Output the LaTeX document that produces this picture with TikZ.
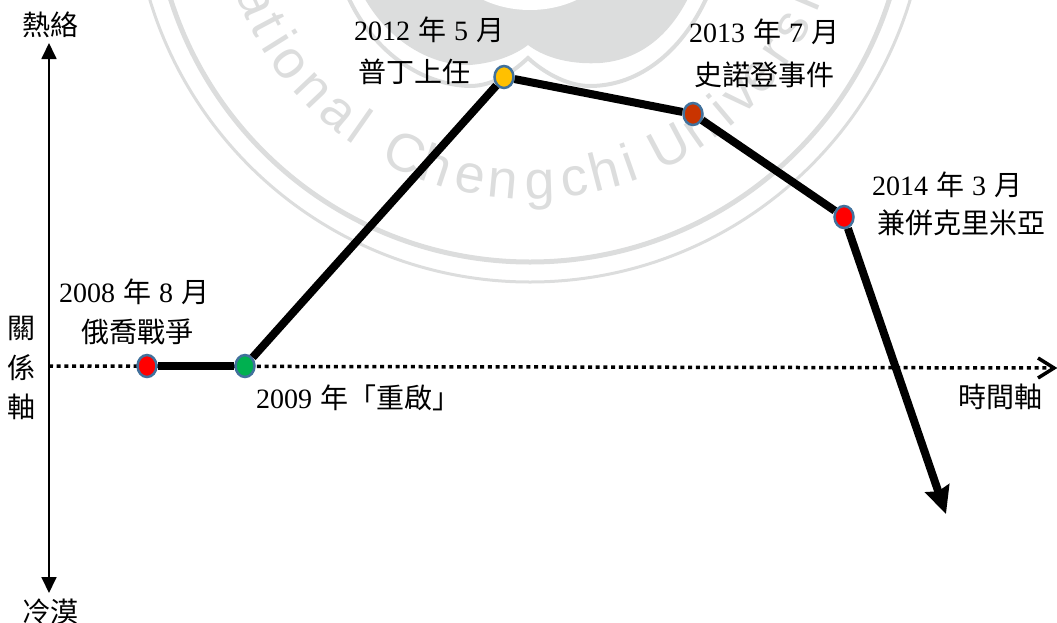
\documentclass[tikz,border=0pt]{standalone}
\usepackage{fontspec}
\setmainfont{Liberation Serif}
\newfontfamily\cjkfont{Noto Sans CJK TC}
\newfontfamily\wmfont{Liberation Sans}
\usetikzlibrary{arrows.meta,shapes.geometric,calc}
\definecolor{wmgray}{HTML}{DCDDDD}
\definecolor{dotedge}{HTML}{41719C}
\newcommand{\zh}[1]{{\cjkfont #1}}
\newcommand{\gp}{\hspace{8pt}}
\tikzset{
  lbl/.style={inner sep=0pt,font=\fontsize{28}{32}\selectfont,text=black},
  wmletter/.style={inner sep=0pt,anchor=base,text=wmgray,font=\fontsize{54}{54}\selectfont\wmfont},
  evt/.style={ellipse,draw=dotedge,line width=2.5pt,minimum width=19pt,minimum height=22pt,inner sep=0pt},
  trend/.style={line width=8pt,draw=black},
  vaxis/.style={line width=1.8pt,draw=black,{Triangle[length=16pt,width=15pt]}-{Triangle[length=16pt,width=15pt]}},
  taxis/.style={line width=3.5pt,draw=black,dash pattern=on 4pt off 3.7pt},
  wmband/.style={draw=wmgray}
}
\begin{document}
\begin{tikzpicture}[x=1pt,y=-1pt]
\useasboundingbox (0,0) rectangle (1057,622);
\clip (0,0) rectangle (1057,622);
% watermark
\draw[wmband,line width=5pt] (530,-115) circle[radius=377];
\draw[wmband,line width=3pt] (530,-115) circle[radius=397];
\fill[wmgray] (360,-10) .. controls (385,40) and (430,66) .. (470,65) .. controls (495,63) and (515,55) .. (528,45) .. controls (541,55) and (565,65) .. (600,63) .. controls (640,60) and (672,35) .. (692,-10) -- cycle;
\fill[white] (530,-60) ellipse[x radius=90,y radius=70];
\draw[wmband,line width=4pt] (345,-10) .. controls (370,50) and (420,85) .. (470,86) .. controls (495,86) and (515,70) .. (528,58) .. controls (541,70) and (565,86) .. (590,86) .. controls (640,86) and (685,50) .. (710,-10);
\foreach \ch/\ang [count=\n] in {N/165,a/157,t/152,i/148,o/143.4,n/136.6,a/130,l/125,C/115,h/108.5,e/101.5,n/95.3,g/88.1,c/81.5,h/75.4,i/70.5,U/62,n/55,i/49.8,v/45,e/39.9,r/34.2,s/28.4,i/23,t/18,y/13}
  \node[wmletter,rotate=90-\ang] (wm\n) at ($(530,-115)+(\ang:314)$) {\ch};
% axes
\coordinate (vtop) at (49,43);
\coordinate (vbot) at (49,593);
\coordinate (tleft) at (49,366);
\coordinate (tright) at (1054,368);
\coordinate (hba) at (1038,358);
\coordinate (hbb) at (1038,378);
\coordinate (trendend) at (946,514);
\draw[taxis] (tleft) -- (tright);
\draw[line width=3.5pt] (hba) -- (tright) -- (hbb);
\draw[vaxis] (vbot) -- (vtop);
% events
\node[evt,fill=red] (e1) at (147,366) {};
\node[evt,fill={rgb,255:red,0;green,176;blue,80}] (e2) at (245,366) {};
\node[evt,fill={rgb,255:red,255;green,192;blue,0}] (e3) at (504,77) {};
\node[evt,fill={rgb,255:red,201;green,52;blue,0}] (e4) at (693,114) {};
\node[evt,fill=red] (e5) at (844,217) {};
\draw[trend] (e1) -- (e2);
\draw[trend] (e2) -- (e3);
\draw[trend] (e3) -- (e4);
\draw[trend] (e4) -- (e5);
\draw[trend,-{Stealth[length=27pt,width=25pt,inset=3pt]}] (e5) -- (trendend);
% labels
\node[lbl] (top) at (50,25) {\zh{熱絡}};
\node[lbl] (bot) at (50,612) {\zh{冷漠}};
\node[lbl] (r1) at (22,328) {\zh{關}};
\node[lbl] (r2) at (22,368) {\zh{係}};
\node[lbl] (r3) at (22,407) {\zh{軸}};
\node[lbl] (t1a) at (134,292) {2008\gp\zh{年}\gp 8\gp\zh{月}};
\node[lbl] (t1b) at (137,332) {\zh{俄喬戰爭}};
\node[lbl,anchor=west] (t2) at (256,398) {2009\gp\zh{年「重啟」}};
\node[lbl] (t3a) at (429,30) {2012\gp\zh{年}\gp 5\gp\zh{月}};
\node[lbl] (t3b) at (414,72) {\zh{普丁上任}};
\node[lbl] (t4a) at (764,32) {2013\gp\zh{年}\gp 7\gp\zh{月}};
\node[lbl] (t4b) at (764,75) {\zh{史諾登事件}};
\node[lbl] (t5a) at (947,185) {2014\gp\zh{年}\gp 3\gp\zh{月}};
\node[lbl] (t5b) at (961,223) {\zh{兼併克里米亞}};
\node[lbl] (tt) at (1000,397) {\zh{時間軸}};
\end{tikzpicture}
\end{document}
